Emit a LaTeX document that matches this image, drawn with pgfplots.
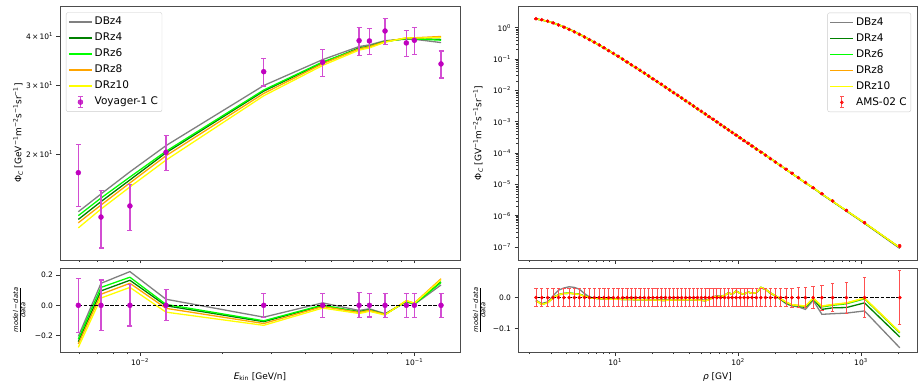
\documentclass[border=0pt]{standalone}
\usepackage{fontspec}
\setmainfont{DejaVu Sans}
\usepackage{pgfplots}
\pgfplotsset{compat=1.18}
\usepackage{pgfplotstable}

\definecolor{mgray}{HTML}{808080}
\definecolor{mgreen}{HTML}{008000}
\definecolor{mlime}{HTML}{00FF00}
\definecolor{morange}{HTML}{FFA500}
\definecolor{myellow}{HTML}{FFFF00}
\definecolor{mmag}{HTML}{BF00BF}
\definecolor{mmagerr}{HTML}{D24DD2}
\definecolor{mred}{HTML}{FF0000}
\definecolor{mrederr}{HTML}{FF5050}

\pgfplotstableread{
E flux err rerr rDB4 rDR4 rDR6 rDR8 rDR10
0.00596 17.92 3.20 0.179 -0.205 -0.240 -0.223 -0.255 -0.277
0.00721 13.81 2.30 0.167 0.145 0.095 0.118 0.073 0.048
0.00919 14.74 2.00 0.136 0.222 0.165 0.185 0.145 0.118
0.01244 20.20 2.07 0.102 0.040 -0.003 0.006 -0.020 -0.045
0.02825 32.43 2.60 0.080 -0.078 -0.108 -0.102 -0.120 -0.132
0.04634 34.27 2.70 0.079 0.016 -0.002 0.002 -0.008 -0.018
0.0629 38.92 3.20 0.082 -0.034 -0.042 -0.046 -0.047 -0.054
0.0686 38.85 3.00 0.077 -0.023 -0.030 -0.032 -0.033 -0.040
0.0782 41.19 3.20 0.078 -0.055 -0.060 -0.060 -0.061 -0.064
0.0935 38.40 3.00 0.078 0.022 0.027 0.026 0.030 0.031
0.1000 39.00 3.05 0.078 0.006 0.010 0.008 0.015 0.013
0.1251 33.94 2.70 0.080 0.134 0.155 0.150 0.175 0.168
}\voy

\pgfplotstableread{
R flux rerr rDB4 rDR4 rDR6 rDR8 rDR10
2.27 1.913 0.029 -0.009 -0.010 -0.010 -0.010 -0.010
2.53 1.795 0.029 -0.019 -0.021 -0.022 -0.022 -0.022
2.82 1.613 0.029 -0.014 -0.016 -0.016 -0.017 -0.017
3.13 1.415 0.029 0.006 -0.001 0.000 -0.001 -0.001
3.46 1.219 0.029 0.024 0.009 0.010 0.009 0.009
3.83 1.033 0.029 0.031 0.013 0.014 0.013 0.013
4.22 0.877 0.029 0.035 0.014 0.015 0.014 0.014
4.65 0.7350 0.029 0.033 0.013 0.013 0.012 0.012
5.12 0.6105 0.029 0.027 0.011 0.011 0.010 0.010
5.63 0.5044 0.029 0.013 0.005 0.005 0.004 0.004
6.18 0.4157 0.029 0.002 0.001 0.001 0.000 0.000
6.77 0.3414 0.029 -0.002 -0.002 -0.002 -0.002 -0.002
7.42 0.2787 0.029 -0.003 -0.003 -0.003 -0.003 -0.003
8.11 0.2277 0.029 -0.004 -0.004 -0.004 -0.004 -0.004
8.86 0.1853 0.029 -0.004 -0.005 -0.005 -0.005 -0.005
9.67 0.1505 0.029 -0.004 -0.005 -0.005 -0.005 -0.005
10.54 0.1222 0.029 -0.004 -0.005 -0.005 -0.005 -0.005
11.49 0.09887 0.029 -0.004 -0.006 -0.006 -0.006 -0.006
12.49 0.08043 0.029 -0.005 -0.006 -0.006 -0.006 -0.006
13.54 0.06574 0.029 -0.005 -0.006 -0.006 -0.006 -0.006
14.69 0.05355 0.029 -0.005 -0.007 -0.007 -0.007 -0.007
15.94 0.04351 0.029 -0.005 -0.007 -0.007 -0.007 -0.007
17.29 0.03535 0.029 -0.005 -0.007 -0.007 -0.007 -0.007
18.73 0.02877 0.029 -0.006 -0.008 -0.008 -0.008 -0.008
20.28 0.02342 0.029 -0.006 -0.008 -0.008 -0.008 -0.008
21.93 0.01913 0.029 -0.006 -0.008 -0.008 -0.008 -0.008
23.73 0.01558 0.029 -0.006 -0.009 -0.009 -0.009 -0.009
25.68 0.01268 0.029 -0.006 -0.009 -0.009 -0.009 -0.009
27.73 0.01037 0.029 -0.006 -0.008 -0.008 -0.008 -0.008
29.93 0.008489 0.029 -0.006 -0.008 -0.008 -0.008 -0.008
32.28 0.006956 0.029 -0.006 -0.008 -0.008 -0.008 -0.008
34.78 0.005713 0.028 -0.006 -0.008 -0.008 -0.008 -0.008
37.47 0.004690 0.028 -0.006 -0.007 -0.007 -0.007 -0.007
40.37 0.003849 0.028 -0.006 -0.007 -0.007 -0.007 -0.007
43.47 0.003163 0.028 -0.006 -0.007 -0.007 -0.007 -0.007
46.77 0.002602 0.028 -0.006 -0.008 -0.008 -0.008 -0.008
50.32 0.002140 0.028 -0.007 -0.009 -0.009 -0.009 -0.009
54.12 0.001761 0.028 -0.008 -0.010 -0.010 -0.010 -0.010
58.16 0.001452 0.028 -0.004 -0.007 -0.007 -0.007 -0.007
62.51 0.001196 0.028 0.003 0.001 0.001 0.001 0.001
67.20 0.0009851 0.028 0.006 0.004 0.004 0.004 0.004
72.25 0.0008102 0.028 0.004 0.003 0.003 0.003 0.003
77.65 0.0006676 0.028 0.008 0.007 0.007 0.007 0.007
83.44 0.0005497 0.028 0.016 0.015 0.015 0.015 0.015
89.69 0.0004529 0.028 0.011 0.011 0.011 0.011 0.011
96.44 0.0003724 0.028 0.022 0.021 0.021 0.021 0.021
103.9 0.0003048 0.028 0.014 0.014 0.014 0.014 0.014
111.9 0.0002497 0.028 0.011 0.011 0.011 0.011 0.011
120.4 0.0002052 0.028 0.018 0.018 0.018 0.018 0.018
129.9 0.0001674 0.028 0.014 0.014 0.014 0.014 0.014
140.9 0.0001347 0.028 0.015 0.016 0.016 0.016 0.016
153.4 0.0001073 0.028 0.031 0.033 0.033 0.033 0.033
167.3 8.511e-5 0.028 0.026 0.027 0.027 0.027 0.027
183.3 6.669e-5 0.028 0.013 0.015 0.015 0.015 0.015
201.3 5.195e-5 0.028 0.005 0.006 0.006 0.006 0.006
221.7 4.018e-5 0.029 -0.006 -0.005 -0.004 -0.004 -0.004
245.7 3.058e-5 0.029 -0.020 -0.017 -0.015 -0.014 -0.014
274.5 2.277e-5 0.031 -0.027 -0.025 -0.024 -0.023 -0.023
309.9 1.649e-5 0.032 -0.030 -0.027 -0.026 -0.025 -0.025
353.7 1.159e-5 0.033 -0.038 -0.032 -0.029 -0.028 -0.027
408.8 7.874e-6 0.036 -0.009 -0.004 -0.003 -0.002 -0.002
481.2 5.094e-6 0.040 -0.054 -0.038 -0.030 -0.028 -0.027
588.6 2.973e-6 0.045 -0.052 -0.033 -0.025 -0.023 -0.022
762.1 1.489e-6 0.050 -0.050 -0.032 -0.020 -0.018 -0.017
1069.6 5.995e-7 0.065 -0.043 -0.017 -0.004 -0.002 -0.001
2071.2 1.090e-7 0.087 -0.162 -0.127 -0.114 -0.112 -0.111
}\ams

\pgfplotsset{
  base/.style={
    scale only axis,
    axis line style={draw=black!70, line width=0.9pt},
    tick align=outside,
    major tick length=3.5pt, minor tick length=2pt,
    major tick style={line width=0.8pt, black!80},
    minor tick style={line width=0.6pt, black!80},
    xtick pos=lower, ytick pos=left,
    tick label style={font=\fontsize{7.5}{9}\selectfont},
    label style={font=\fontsize{9}{11}\selectfont},
    legend image code/.code={\draw[##1, line width=1.5pt] (0pt,0pt) -- (23pt,0pt);},
    legend cell align=left,
    legend style={draw=black!20, rounded corners=2pt, fill=white, fill opacity=0.8, text opacity=1, draw opacity=1,
      font=\fontsize{10.5}{12}\selectfont, inner xsep=2pt, inner ysep=3.5pt,
      nodes={inner xsep=2pt, inner ysep=1pt, text height=7.7pt, text depth=2.3pt},
      row sep=4pt},
  },
  mline/.style={line width=1.3pt, mark=none},
  fracl/.style={ylabel={\fontsize{6.8}{7}\selectfont\renewcommand\arraystretch{0.85}\begin{tabular}{@{}c@{}}\textit{model}\,−\,\textit{data}\\\hline\textit{data}\end{tabular}}},
  voyerr/.style={error bars/.cd, y dir=both, y explicit, error mark=|,
    error bar style={mmagerr, line width=1.2pt},
    error mark options={mmagerr, line width=1.2pt, mark size=2.5pt}},
  amserr/.style={error bars/.cd, y dir=both, y explicit, error mark=|,
    error bar style={mrederr, line width=0.9pt},
    error mark options={mrederr, line width=0.9pt, mark size=1.7pt}},
}

\begin{document}
\begin{tikzpicture}[x=1pt,y=1pt]
\path[use as bounding box] (0,0) rectangle (924,-388);

% ---------------- left top
\begin{axis}[base, at={(60pt,-260pt)}, anchor=south west, width=400pt, height=254pt,
  xmode=log, ymode=log, xmin=0.00511, xmax=0.1467, ymin=10.73, ymax=47.7,
  xtick={0.01,0.1}, minor xtick={0.006,0.007,0.008,0.009,0.02,0.03,0.04,0.05,0.06,0.07,0.08,0.09},
  xticklabels={},
  ytick={20,30,40}, yticklabels={2\,×\,10\textsuperscript{1},3\,×\,10\textsuperscript{1},4\,×\,10\textsuperscript{1}},
  ylabel={Φ\textsubscript{\textit{C}} [GeV\textsuperscript{−1}m\textsuperscript{−2}s\textsuperscript{−1}sr\textsuperscript{−1}]},
  ylabel style={at={(axis description cs:-0.105,0.5)}, anchor=center},
  legend style={at={(axis description cs:0,1)}, anchor=north west, xshift=6pt, yshift=-6.3pt},
]
\addplot[mline, mgray] table[x=E, y expr=\thisrow{flux}*(1+\thisrow{rDB4})] {\voy};
\addlegendentry{DBz4}
\addplot[mline, mgreen] table[x=E, y expr=\thisrow{flux}*(1+\thisrow{rDR4})] {\voy};
\addlegendentry{DRz4}
\addplot[mline, mlime] table[x=E, y expr=\thisrow{flux}*(1+\thisrow{rDR6})] {\voy};
\addlegendentry{DRz6}
\addplot[mline, morange] table[x=E, y expr=\thisrow{flux}*(1+\thisrow{rDR8})] {\voy};
\addlegendentry{DRz8}
\addplot[mline, myellow] table[x=E, y expr=\thisrow{flux}*(1+\thisrow{rDR10})] {\voy};
\addlegendentry{DRz10}
\addplot[only marks, mark=*, mark size=2.5pt, mmag, mark options={fill=mmag, draw=mmag},
  voyerr,
  /pgfplots/legend image code/.code={
    \draw[mmagerr, line width=1.2pt] (11.5pt,-5.5pt) -- (11.5pt,5.5pt);
    \draw[mmagerr, line width=1.2pt] (9pt,-5.5pt) -- (14pt,-5.5pt) (9pt,5.5pt) -- (14pt,5.5pt);
    \fill[mmag] (11.5pt,0pt) circle (2.5pt);}
  ] table[x=E, y=flux, y error=err] {\voy};
\addlegendentry{Voyager-1 C}
\end{axis}

% ---------------- left bottom
\begin{axis}[base, fracl, at={(60pt,-352pt)}, anchor=south west, width=400pt, height=84pt,
  xmode=log, xmin=0.00511, xmax=0.1467, ymin=-0.3077, ymax=0.2458,
  xtick={0.01,0.1}, minor xtick={0.006,0.007,0.008,0.009,0.02,0.03,0.04,0.05,0.06,0.07,0.08,0.09},
  xticklabels={10\textsuperscript{−2},10\textsuperscript{−1}},
  ytick={-0.2,0,0.2}, yticklabels={−0.2,0.0,0.2},
  ylabel style={at={(axis description cs:-0.1,0.5)}, anchor=center},
  xlabel={\textit{E}\textsubscript{kin} [GeV/n]},
  xlabel style={at={(axis description cs:0.5,-0.294)}, anchor=center},
]
\addplot[mline, mgray] table[x=E, y=rDB4] {\voy};
\addplot[mline, mgreen] table[x=E, y=rDR4] {\voy};
\addplot[mline, mlime] table[x=E, y=rDR6] {\voy};
\addplot[mline, morange] table[x=E, y=rDR8] {\voy};
\addplot[mline, myellow] table[x=E, y=rDR10] {\voy};
\addplot[black, line width=0.9pt, dash pattern=on 3.7pt off 1.6pt] coordinates {(0.00596,0) (0.1251,0)};
\addplot[only marks, mark=*, mark size=2.5pt, mmag, mark options={fill=mmag, draw=mmag},
  voyerr] table[x=E, y expr=0, y error=rerr] {\voy};
\end{axis}

% ---------------- right top
\begin{axis}[base, at={(518pt,-260pt)}, anchor=south west, width=399pt, height=254pt,
  xmode=log, ymode=log, xmin=1.62, xmax=2860, ymin=3.9e-8, ymax=4.9,
  xtick={10,100,1000}, minor xtick={2,3,4,5,6,7,8,9,20,30,40,50,60,70,80,90,200,300,400,500,600,700,800,900,2000},
  xticklabels={},
  ytick={1e-7,1e-6,1e-5,1e-4,1e-3,1e-2,1e-1,1},
  yticklabels={10\textsuperscript{−7},10\textsuperscript{−6},10\textsuperscript{−5},10\textsuperscript{−4},10\textsuperscript{−3},10\textsuperscript{−2},10\textsuperscript{−1},10\textsuperscript{0}},
  ylabel={Φ\textsubscript{\textit{C}} [GV\textsuperscript{−1}m\textsuperscript{−2}s\textsuperscript{−1}sr\textsuperscript{−1}]},
  ylabel style={at={(axis description cs:-0.1003,0.5)}, anchor=center},
  legend style={at={(axis description cs:1,1)}, anchor=north east, xshift=-6pt, yshift=-6.6pt},
]
\addplot[mline, mgray] table[x=R, y expr=\thisrow{flux}*(1+\thisrow{rDB4})] {\ams};
\addlegendentry{DBz4}
\addplot[mline, mgreen] table[x=R, y expr=\thisrow{flux}*(1+\thisrow{rDR4})] {\ams};
\addlegendentry{DRz4}
\addplot[mline, mlime] table[x=R, y expr=\thisrow{flux}*(1+\thisrow{rDR6})] {\ams};
\addlegendentry{DRz6}
\addplot[mline, morange] table[x=R, y expr=\thisrow{flux}*(1+\thisrow{rDR8})] {\ams};
\addlegendentry{DRz8}
\addplot[mline, myellow] table[x=R, y expr=\thisrow{flux}*(1+\thisrow{rDR10})] {\ams};
\addlegendentry{DRz10}
\addplot[only marks, mark=*, mark size=1.6pt, mred, mark options={fill=mred, draw=mred},
  amserr,
  /pgfplots/legend image code/.code={
    \draw[mrederr, line width=0.9pt] (11.5pt,-5.5pt) -- (11.5pt,5.5pt);
    \draw[mrederr, line width=0.9pt] (9.8pt,-5.5pt) -- (13.2pt,-5.5pt) (9.8pt,5.5pt) -- (13.2pt,5.5pt);
    \fill[mred] (11.5pt,0pt) circle (1.6pt);}
  ] table[x=R, y=flux, y error expr=\thisrow{flux}*\thisrow{rerr}] {\ams};
\addlegendentry{AMS-02 C}
\end{axis}

% ---------------- right bottom
\begin{axis}[base, fracl, at={(518pt,-352pt)}, anchor=south west, width=399pt, height=84pt,
  xmode=log, xmin=1.62, xmax=2860, ymin=-0.1755, ymax=0.0955,
  xtick={10,100,1000}, minor xtick={2,3,4,5,6,7,8,9,20,30,40,50,60,70,80,90,200,300,400,500,600,700,800,900,2000},
  xticklabels={10\textsuperscript{1},10\textsuperscript{2},10\textsuperscript{3}},
  ytick={-0.1,0}, yticklabels={−0.1,0.0},
  ylabel style={at={(axis description cs:-0.095,0.5)}, anchor=center},
  xlabel={\textit{ρ} [GV]},
  xlabel style={at={(axis description cs:0.5,-0.294)}, anchor=center},
]
\addplot[mline, mgray] table[x=R, y=rDB4] {\ams};
\addplot[mline, mgreen] table[x=R, y=rDR4] {\ams};
\addplot[mline, mlime] table[x=R, y=rDR6] {\ams};
\addplot[mline, morange] table[x=R, y=rDR8] {\ams};
\addplot[mline, myellow] table[x=R, y=rDR10] {\ams};
\addplot[black, line width=0.9pt, dash pattern=on 3.7pt off 1.6pt] coordinates {(2.27,0) (2071.2,0)};
\addplot[only marks, mark=*, mark size=1.6pt, mred, mark options={fill=mred, draw=mred},
  amserr] table[x=R, y expr=0, y error=rerr] {\ams};
\end{axis}
\end{tikzpicture}
\end{document}
